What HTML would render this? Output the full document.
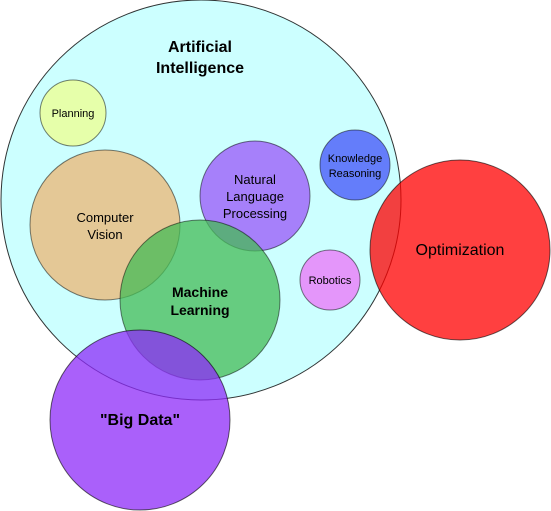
<!DOCTYPE html>
<html><head><style>html,body{margin:0;padding:0;background:#fff;width:551px;height:511px;overflow:hidden}
text{font-family:"Liberation Sans",Arial,sans-serif;fill:#000;text-anchor:middle}</style></head>
<body>
<svg width="551" height="511" viewBox="0 0 551 511" xmlns="http://www.w3.org/2000/svg">
<g stroke="#000" stroke-width="1" stroke-opacity="0.8">
<circle cx="201" cy="200" r="200" fill="#ccffff"/>
<circle cx="73" cy="113" r="33" fill="#e6ffaa" stroke-opacity="0.5"/>
<circle cx="105" cy="225" r="75" fill="rgb(236,182,115)" fill-opacity="0.75" stroke-opacity="0.5"/>
<circle cx="255" cy="196" r="55" fill="rgb(153,86,248)" fill-opacity="0.75" stroke-opacity="0.5"/>
<circle cx="355" cy="165" r="35" fill="rgb(65,82,248)" fill-opacity="0.75" stroke-opacity="0.5"/>
<circle cx="330" cy="280" r="30" fill="rgb(236,115,248)" fill-opacity="0.75" stroke-opacity="0.5"/>
<circle cx="200" cy="300" r="80" fill="rgb(68,187,85)" fill-opacity="0.75" stroke-opacity="0.5"/>
<circle cx="460" cy="250" r="90" fill="rgb(255,0,0)" fill-opacity="0.75" stroke-opacity="0.6"/>
<circle cx="140" cy="420" r="90" fill="rgb(142,43,248)" fill-opacity="0.75" stroke-opacity="0.6"/>
</g>
<text x="200" y="52" font-size="16" font-weight="bold">Artificial</text>
<text x="200" y="73" font-size="16" font-weight="bold">Intelligence</text>
<text x="73" y="117" font-size="11">Planning</text>
<text x="105" y="222" font-size="13">Computer</text>
<text x="105" y="239" font-size="13">Vision</text>
<text x="255" y="184" font-size="13">Natural</text>
<text x="255" y="201" font-size="13">Language</text>
<text x="255" y="218" font-size="13">Processing</text>
<text x="355" y="162" font-size="11">Knowledge</text>
<text x="355" y="177" font-size="11">Reasoning</text>
<text x="330" y="284" font-size="11">Robotics</text>
<text x="200" y="297" font-size="14" font-weight="bold">Machine</text>
<text x="200" y="315" font-size="14" font-weight="bold">Learning</text>
<text x="460" y="255" font-size="16">Optimization</text>
<text x="140" y="425" font-size="16" font-weight="bold">"Big Data"</text>
</svg>
</body></html>
